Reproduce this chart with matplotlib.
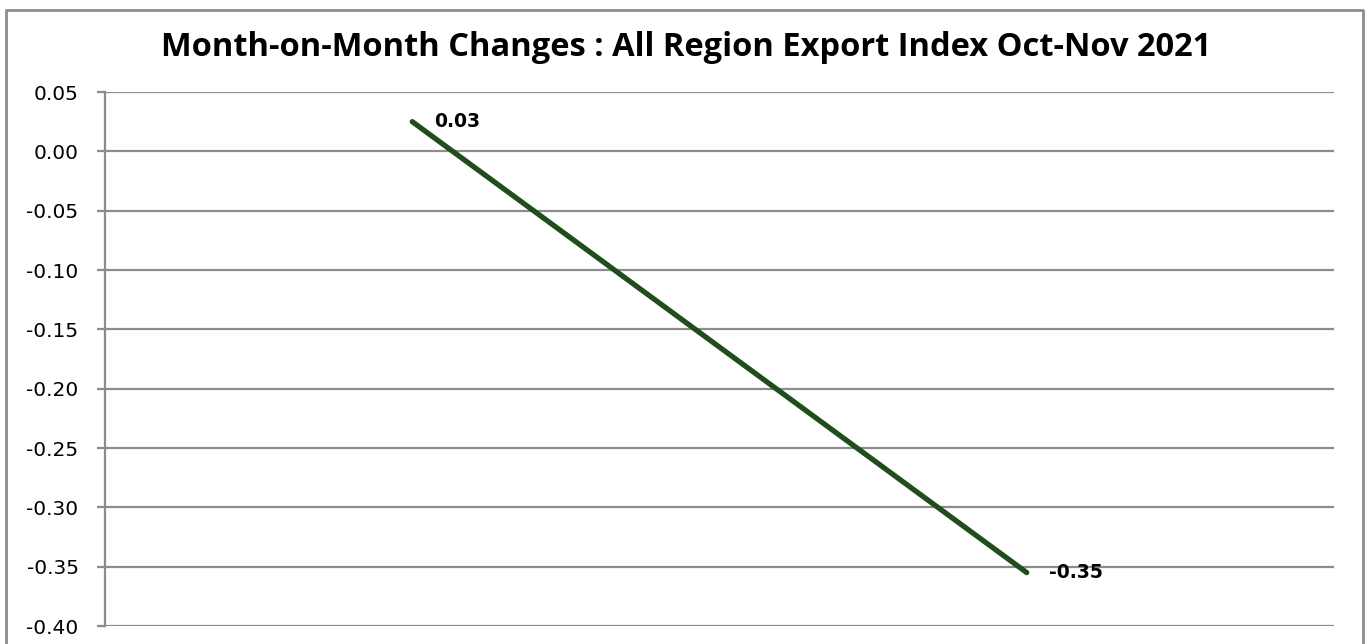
import matplotlib.pyplot as plt
from matplotlib.lines import Line2D

# data
months = ["Oct 2021", "Nov 2021"]
changes = [0.025, -0.355]
value_labels = ["0.03", "-0.35"]
yticks = [0.05, 0.00, -0.05, -0.10, -0.15, -0.20, -0.25, -0.30, -0.35, -0.40]

W, H = 1366, 644
grid_col = "#8c8c8c"

fig = plt.figure(figsize=(W / 100, H / 100), dpi=100)
ax = fig.add_axes([105 / W, 1 - 626 / H, (1334 - 105) / W, (626 - 92) / H])

x = list(range(len(months)))
ax.plot(x, changes, color="#1f4d1c", lw=3.8, solid_capstyle="round")
for xi, yi, lab in zip(x, changes, value_labels):
    ax.annotate(lab, (xi, yi), xytext=(16, 0), textcoords="offset points",
                ha="left", va="center", fontsize=13.5, fontweight="bold",
                family="DejaVu Sans")

ax.set_xlim(-0.5, 1.5)
ax.set_ylim(-0.40, 0.05)
ax.set_yticks(yticks)
ax.set_yticklabels([f"{v:.2f}" for v in yticks], family="DejaVu Sans", fontsize=14.5)
ax.set_xticks([])
ax.yaxis.grid(True, color=grid_col, lw=1.6)
ax.set_axisbelow(True)
for s in ("top", "right", "bottom"):
    ax.spines[s].set_visible(False)
ax.spines["left"].set_color(grid_col)
ax.spines["left"].set_linewidth(1.6)
ax.tick_params(axis="y", length=6, width=1.6, color=grid_col, pad=13)

fig.text(686 / W, 1 - 48 / H, "Month-on-Month Changes : All Region Export Index Oct-Nov 2021",
         ha="center", va="center", fontsize=23.5, fontweight="bold", family="Open Sans")

# outer chart border (bottom edge is cut off in the original)
fig.add_artist(Line2D([5.5 / W, 5.5 / W, 1363 / W, 1363 / W],
                      [-0.01, 1 - 10 / H, 1 - 10 / H, -0.01],
                      transform=fig.transFigure, color=grid_col, lw=2))

fig.savefig("out.png", dpi=100)
